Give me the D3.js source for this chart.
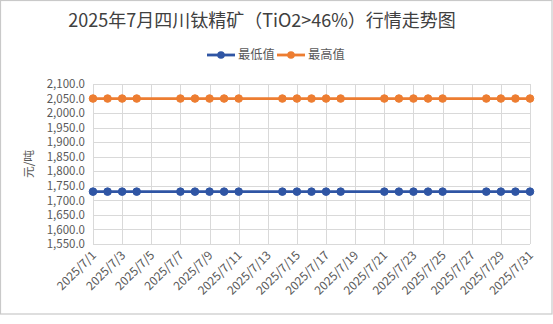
<!DOCTYPE html>
<html><head><meta charset="utf-8">
<script src="https://cdn.jsdelivr.net/npm/d3@7/dist/d3.min.js"></script>
<style>
html,body{margin:0;padding:0;background:#fff;}
text{font-family:"Microsoft YaHei","Noto Sans CJK SC","Noto Sans",sans-serif;}
</style></head>
<body>
<svg id="c" width="553" height="324"></svg>
<script>
const title = "2025年7月四川钛精矿（TiO2>46%）行情走势图";
const yLabel = "元/吨";
const seriesNames = ["最低值", "最高值"];
const seriesColors = ["#2F55A4", "#ED7D31"];
const allDays = d3.range(1, 32).map(d => "2025/7/" + d);
const tradeDays = ["2025/7/1","2025/7/2","2025/7/3","2025/7/4","2025/7/7","2025/7/8","2025/7/9","2025/7/10","2025/7/11","2025/7/14","2025/7/15","2025/7/16","2025/7/17","2025/7/18","2025/7/21","2025/7/22","2025/7/23","2025/7/24","2025/7/25","2025/7/28","2025/7/29","2025/7/30","2025/7/31"];
const lowValues  = [1730,1730,1730,1730,1730,1730,1730,1730,1730,1730,1730,1730,1730,1730,1730,1730,1730,1730,1730,1730,1730,1730,1730];
const highValues = [2050,2050,2050,2050,2050,2050,2050,2050,2050,2050,2050,2050,2050,2050,2050,2050,2050,2050,2050,2050,2050,2050,2050];
const yTicks = d3.range(1550, 2101, 50);
const xTickLabels = allDays.filter((d, i) => i % 2 === 0);

const svg = d3.select("#c");
svg.append("rect").attr("x",0.5).attr("y",0.5).attr("width",551.5).attr("height",313.5)
  .attr("fill","#fff").attr("stroke","#c9c9c9").attr("stroke-width",1.2);

const x = d3.scalePoint().domain(allDays).range([93, 530]);
const y = d3.scaleLinear().domain([1550, 2100]).range([244, 84]);

// gridlines
const g = svg.append("g");
g.selectAll("line.h").data(yTicks).join("line")
  .attr("x1", 93).attr("x2", 530)
  .attr("y1", d => Math.round(y(d)) + 0.5).attr("y2", d => Math.round(y(d)) + 0.5)
  .attr("stroke", "#d9d9d9").attr("stroke-width", 1);
g.selectAll("line.v").data(xTickLabels).join("line")
  .attr("x1", d => Math.round(x(d)) + 0.5).attr("x2", d => Math.round(x(d)) + 0.5)
  .attr("y1", 84).attr("y2", 244)
  .attr("stroke", "#d9d9d9").attr("stroke-width", 1);

// y axis labels
svg.append("g").selectAll("text").data(yTicks).join("text")
  .attr("x", 85).attr("y", d => y(d)).attr("dy", "0.36em")
  .attr("text-anchor", "end").attr("font-size", 11.5).attr("fill", "#595959")
  .text(d => d3.format(",.1f")(d));

// x axis labels
svg.append("g").selectAll("text").data(xTickLabels).join("text")
  .attr("transform", d => `translate(${x(d) + 4},${256}) rotate(-45)`)
  .attr("text-anchor", "end").attr("font-size", 12).attr("fill", "#595959")
  .text(d => d);

// y label
svg.append("text").attr("transform", "translate(33,164) rotate(-90)")
  .attr("text-anchor", "middle").attr("font-size", 11.8).attr("fill", "#595959")
  .text(yLabel);

// series
const seriesData = [lowValues, highValues];
const line = d3.line().x(d => x(d.day)).y(d => y(d.v));
seriesData.forEach((vals, i) => {
  const pts = tradeDays.map((day, j) => ({day, v: vals[j]}));
  svg.append("path").datum(pts).attr("d", line)
    .attr("fill", "none").attr("stroke", seriesColors[i]).attr("stroke-width", 2.8);
  svg.append("g").selectAll("circle").data(pts).join("circle")
    .attr("cx", d => x(d.day)).attr("cy", d => y(d.v)).attr("r", 3.8)
    .attr("fill", seriesColors[i]).attr("stroke", seriesColors[i]);
});

// title
svg.append("text").attr("x", 262).attr("y", 27).attr("text-anchor", "middle")
  .attr("font-size", 18).attr("fill", "#404040").text(title);

// legend
const legX = [207, 277];
seriesNames.forEach((n, i) => {
  const lg = svg.append("g").attr("transform", `translate(${legX[i]},55)`);
  lg.append("line").attr("x1", 0).attr("x2", 28).attr("y1", 0).attr("y2", 0)
    .attr("stroke", seriesColors[i]).attr("stroke-width", 2.8);
  lg.append("circle").attr("cx", 14).attr("cy", 0).attr("r", 3.8).attr("fill", seriesColors[i]);
  lg.append("text").attr("x", 31).attr("y", 0).attr("dy", "0.36em")
    .attr("font-size", 12.3).attr("fill", "#595959").text(n);
});
</script>
</body></html>
